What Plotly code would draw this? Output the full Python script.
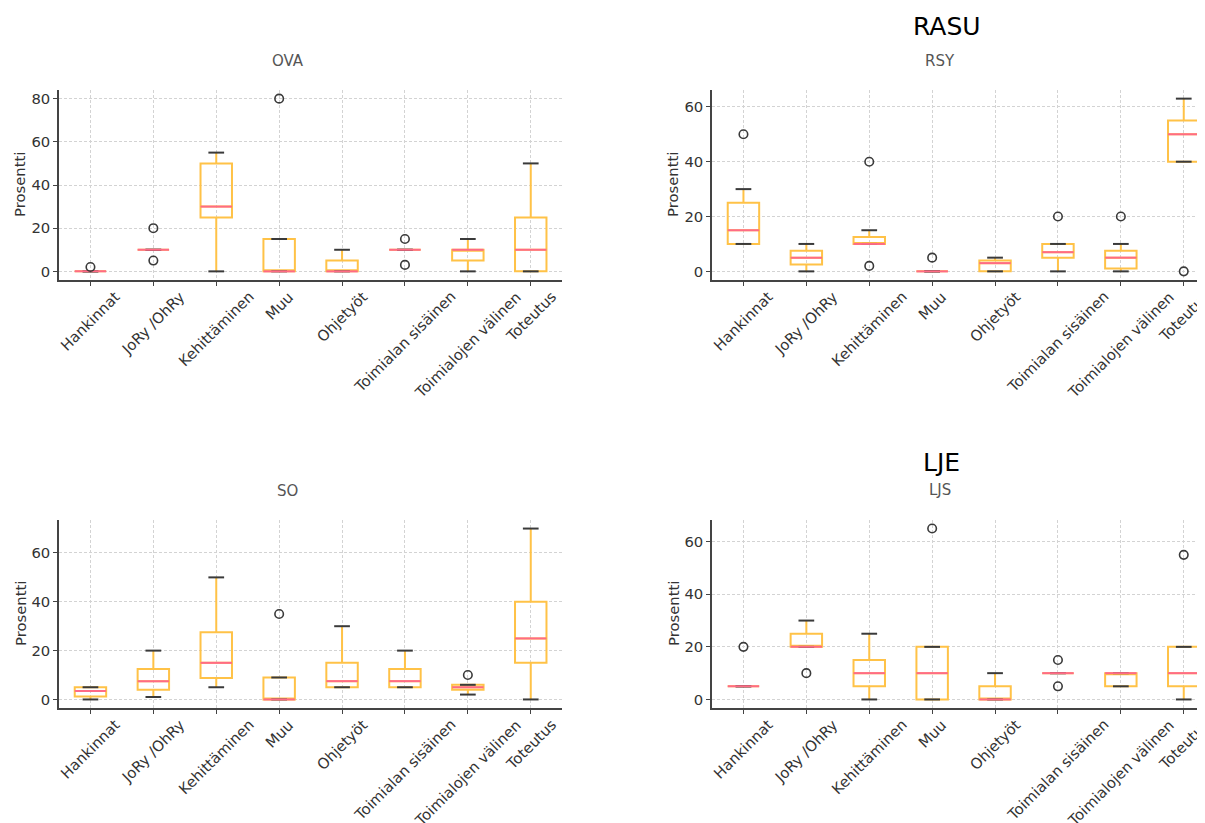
import plotly.graph_objects as go

categories = ["Hankinnat", "JoRy /OhRy", "Kehittäminen", "Muu", "Ohjetyöt",
              "Toimialan sisäinen", "Toimialojen välinen", "Toteutus"]

# ---- OVA ----
ova_q1 = [0, 10, 25, 0, 0, 10, 5, 0]
ova_med = [0, 10, 30, 0, 0, 10, 10, 10]
ova_q3 = [0, 10, 50, 15, 5, 10, 10, 25]
ova_lo = [0, 10, 0, 0, 0, 10, 0, 0]
ova_hi = [0, 10, 55, 15, 10, 10, 15, 50]
ova_out = [[2], [20, 5], [], [80], [], [15, 3], [], []]

# ---- RSY ----
rsy_q1 = [10, 2.5, 10, 0, 0, 5, 1, 40]
rsy_med = [15, 5, 10, 0, 3, 7, 5, 50]
rsy_q3 = [25, 7.5, 12.5, 0, 4, 10, 7.5, 55]
rsy_lo = [10, 0, 10, 0, 0, 0, 0, 40]
rsy_hi = [30, 10, 15, 0, 5, 10, 10, 63]
rsy_out = [[50], [], [40, 2], [5], [], [20], [20], [0]]

# ---- SO ----
so_q1 = [1.25, 4, 8.75, 0, 5, 5, 4, 15]
so_med = [3.5, 7.5, 15, 0, 7.5, 7.5, 5, 25]
so_q3 = [5, 12.5, 27.5, 9, 15, 12.5, 6, 40]
so_lo = [0, 1, 5, 0, 5, 5, 2, 0]
so_hi = [5, 20, 50, 9, 30, 20, 6, 70]
so_out = [[], [], [], [35], [], [], [10], []]

# ---- LJS ----
ljs_q1 = [5, 20, 5, 0, 0, 10, 5, 5]
ljs_med = [5, 20, 10, 10, 0, 10, 10, 10]
ljs_q3 = [5, 25, 15, 20, 5, 10, 10, 20]
ljs_lo = [5, 20, 0, 0, 0, 10, 5, 0]
ljs_hi = [5, 30, 25, 20, 10, 10, 10, 20]
ljs_out = [[20], [10], [], [65], [], [15, 5], [], [55]]

panel_titles = ["OVA", "RSY", "SO", "LJS"]
group_titles = ["RASU", "LJE"]
y_label = "Prosentti"

BOX = "#FFC247"
MED = "#FF6B86"
CAP = "#3a3a3a"
FLIER = "#3a3a3a"
TXT = "#333333"
FONT = "DejaVu Sans"
FS = 14.8
W, H = 1205, 823
OFF = 8  # default page body margin of the written html


def fx(px):
    return (px - OFF) / W


def fy(py):
    return 1 - (py - OFF) / H


panels = [
    (ova_q1, ova_med, ova_q3, ova_lo, ova_hi, ova_out),
    (rsy_q1, rsy_med, rsy_q3, rsy_lo, rsy_hi, rsy_out),
    (so_q1, so_med, so_q3, so_lo, so_hi, so_out),
    (ljs_q1, ljs_med, ljs_q3, ljs_lo, ljs_hi, ljs_out),
]

# page-pixel layout of the axes boxes (left, right, top, bottom)
px_boxes = [(59, 562, 90, 280), (712, 1205, 90, 280),
            (59, 562, 520, 708), (712, 1205, 520, 708)]
unit_px = 62.9
title_px = [(288, 61), (940, 61), (287, 491), (940, 490)]
group_px = [(947, 26), (941, 462)]
ylabel_px = [20, 673, 20, 673]

positions = list(range(1, len(categories) + 1))
box_w = 0.5
cap_hw = 0.125

fig = go.Figure()
annotations = []

for k, (q1, med, q3, lo, hi, out) in enumerate(panels):
    ax = "" if k == 0 else str(k + 1)
    xr, yr = "x" + ax, "y" + ax
    fig.add_trace(go.Box(
        x=positions, q1=q1, median=med, q3=q3, lowerfence=lo, upperfence=hi,
        width=box_w, whiskerwidth=0, boxpoints=False,
        line=dict(color=BOX, width=2), fillcolor="rgba(0,0,0,0)",
        xaxis=xr, yaxis=yr, showlegend=False))
    # caps
    cx, cy = [], []
    for p, a, b in zip(positions, lo, hi):
        cx += [p - cap_hw, p + cap_hw, None, p - cap_hw, p + cap_hw, None]
        cy += [a, a, None, b, b, None]
    fig.add_trace(go.Scatter(x=cx, y=cy, mode="lines", line=dict(color=CAP, width=2),
                             xaxis=xr, yaxis=yr, showlegend=False, hoverinfo="skip"))
    # medians
    mx, my = [], []
    for p, m in zip(positions, med):
        mx += [p - box_w / 2, p + box_w / 2, None]
        my += [m, m, None]
    fig.add_trace(go.Scatter(x=mx, y=my, mode="lines", line=dict(color=MED, width=2),
                             xaxis=xr, yaxis=yr, showlegend=False, hoverinfo="skip"))
    # outliers
    ox, oy = [], []
    for p, vals in zip(positions, out):
        for v in vals:
            ox.append(p)
            oy.append(v)
    fig.add_trace(go.Scatter(x=ox, y=oy, mode="markers",
                             marker=dict(symbol="circle-open", size=8.5, color=FLIER,
                                         line=dict(width=1.6, color=FLIER)),
                             xaxis=xr, yaxis=yr, showlegend=False))

    l, r, t, b = px_boxes[k]
    all_out = [v for vals in out for v in vals]
    data_max = max(max(hi), max(all_out + [0]))
    data_min = min(min(lo), min(all_out + [0]))
    pad = 0.05 * (data_max - data_min)
    x_hi = 0.5 + (r - l) / unit_px
    common = dict(showline=True, linecolor="#444", linewidth=1.6, ticks="outside",
                  ticklen=4, tickcolor="#444", tickwidth=1.2, showgrid=True,
                  gridcolor="#d3d3d3", griddash="3px,2px", gridwidth=1, zeroline=False,
                  mirror=False)
    fig.layout["xaxis" + ax] = dict(domain=[fx(l), fx(r)], range=[0.5, min(8.5, x_hi)],
                                    tickvals=positions, showticklabels=False,
                                    anchor=yr, **common)
    fig.layout["yaxis" + ax] = dict(domain=[fy(b), fy(t)],
                                    range=[data_min - pad, data_max + pad], dtick=20,
                                    tickfont=dict(family=FONT, size=FS, color=TXT),
                                    anchor=xr, **common)
    for p, c in zip(positions, categories):
        annotations.append(dict(text=c, x=p, xref=xr, y=0, yref=yr + " domain",
                                xanchor="center", yanchor="top", yshift=-5,
                                textangle=-45, showarrow=False,
                                font=dict(family=FONT, size=FS, color=TXT)))
    tx, ty = title_px[k]
    annotations.append(dict(text=panel_titles[k], x=fx(tx), y=fy(ty), xref="paper",
                            yref="paper", xanchor="center", yanchor="middle",
                            showarrow=False, font=dict(family=FONT, size=15, color="#555555")))
    annotations.append(dict(text=y_label, x=fx(ylabel_px[k]), y=fy((t + b) / 2),
                            xref="paper", yref="paper", xanchor="center", yanchor="middle",
                            textangle=-90, showarrow=False,
                            font=dict(family=FONT, size=FS, color=TXT)))

for (gx, gy), g in zip(group_px, group_titles):
    annotations.append(dict(text=g, x=fx(gx), y=fy(gy), xref="paper", yref="paper",
                            xanchor="center", yanchor="middle", showarrow=False,
                            font=dict(family=FONT, size=25, color="#000000")))

fig.update_layout(width=W, height=H, margin=dict(l=0, r=0, t=0, b=0),
                  paper_bgcolor="white", plot_bgcolor="white",
                  font=dict(family=FONT, color=TXT), annotations=annotations,
                  showlegend=False)

fig.write_html("out.html")
